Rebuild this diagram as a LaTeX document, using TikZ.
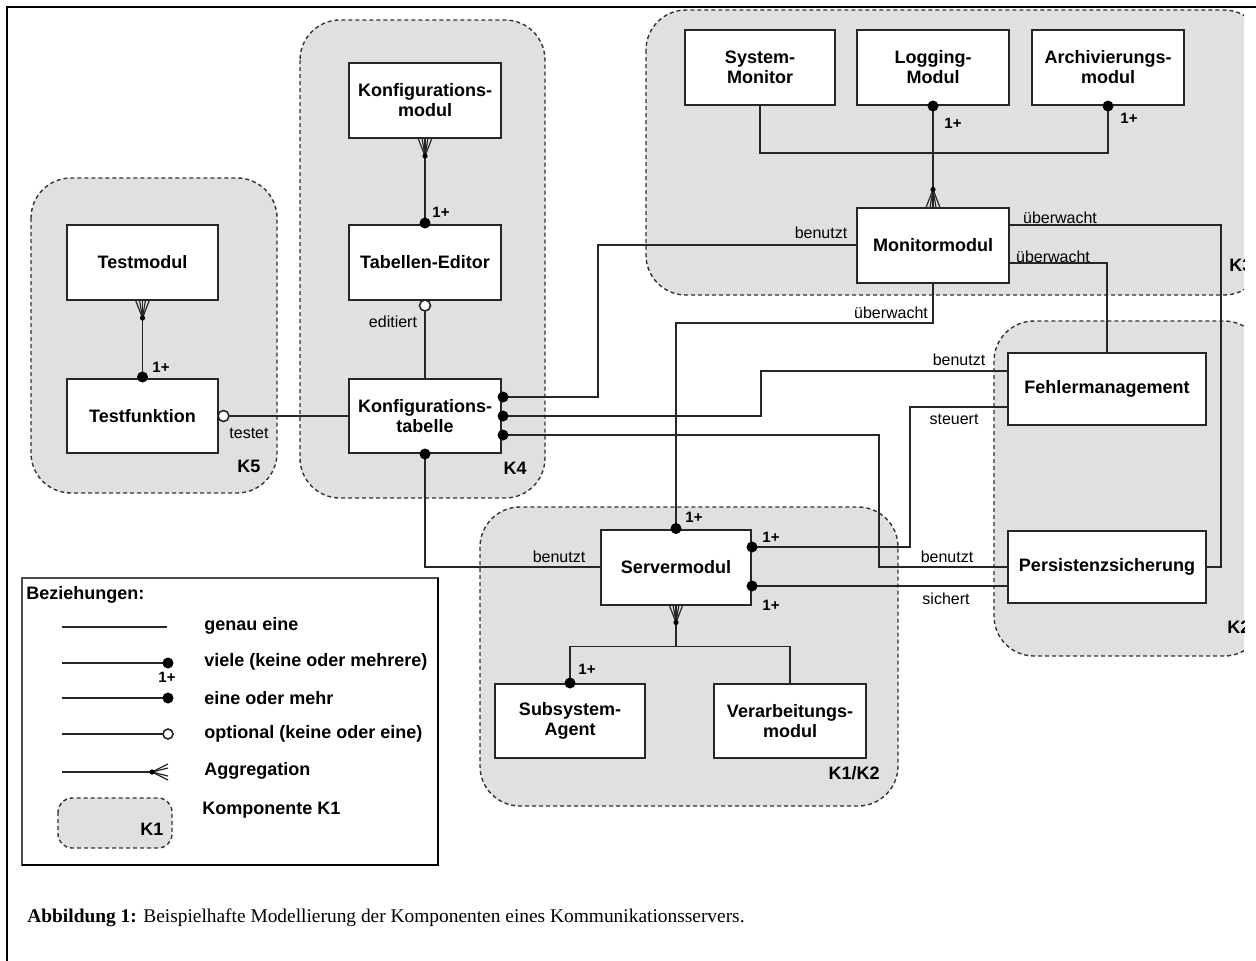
\documentclass[tikz,border=0pt]{standalone}
\usepackage{fontspec}
\setmainfont{Liberation Sans}
\newfontfamily\capfont{Liberation Serif}
\newcommand{\aggdown}[1]{%
  \draw[draw=black!85, line width=0.6pt] (#1) ++(-7,0) -- ++(7,18) -- ++(7,-18);
  \draw[draw=black!85, line width=0.6pt] (#1) ++(-3,0) -- ++(3,18) -- ++(3,-18);
  \fill[black] (#1) ++(0,18) circle (1.3pt);}
\newcommand{\aggup}[1]{%
  \draw[draw=black!85, line width=0.6pt] (#1) ++(-7,0) -- ++(7,-18) -- ++(7,18);
  \draw[draw=black!85, line width=0.6pt] (#1) ++(-3,0) -- ++(3,-18) -- ++(3,18);
  \fill[black] (#1) ++(0,-18) circle (1.3pt);}
\begin{document}
\begin{tikzpicture}[x=0.5pt,y=-0.5pt,
  comp/.style={draw=black!80, line width=0.7pt, dash pattern=on 2pt off 1.5pt, fill=black!12, rounded corners=20pt},
  box/.style={draw=black!85, line width=1pt, fill=white, inner sep=0pt, outer sep=0pt, align=center, font=\fontsize{9}{10}\selectfont\bfseries},
  wh/.style 2 args={minimum width=#1*0.5pt, minimum height=#2*0.5pt},
  conn/.style={draw=black!85, line width=0.9pt},
  lbl/.style={font=\fontsize{8}{9}\selectfont, inner sep=0pt},
  mult/.style={font=\fontsize{7.5}{8}\selectfont\bfseries, inner sep=0pt},
  klbl/.style={font=\fontsize{9}{10}\selectfont\bfseries, inner sep=0pt},
  ltxt/.style={font=\fontsize{9}{10}\selectfont\bfseries, inner sep=0pt, anchor=west},
  dot/.style={fill=black},
  odot/.style={draw=black!85, fill=white, line width=0.8pt},
]
\useasboundingbox (0,0) rectangle (1256,960);
\fill[white] (0,0) rectangle (1256,960);
\begin{scope}
\clip (0,0) rectangle (1244,960);

% components
\path[comp] (31,178) rectangle (277,493);
\path[comp] (300,20) rectangle (545,498);
\path[comp] (646,10) rectangle (1264,295);
\path[comp] (994,321) rectangle (1264,656);
\path[comp] (480,507) rectangle (898,806);
\node[klbl] (k5) at (249,466) {K5};
\node[klbl] (k4) at (515,468) {K4};
\node[klbl, anchor=west] (k3) at (1229,265) {K3};
\node[klbl, anchor=west] (k2) at (1227,627) {K2};
\node[klbl] (k12) at (854,773) {K1/K2};

% boxes
\node[box, wh={151}{75}] (tm) at (142.5,262.5) {Testmodul};
\node[box, wh={151}{74}] (tf) at (142.5,416) {Testfunktion};
\node[box, wh={152}{75}] (km) at (425,100.5) {Konfigurations-\\modul};
\node[box, wh={152}{75}] (te) at (425,262.5) {Tabellen-Editor};
\node[box, wh={152}{74}] (kt) at (425,416) {Konfigurations-\\tabelle};
\node[box, wh={150}{75}] (smon) at (760,67.5) {System-\\Monitor};
\node[box, wh={152}{75}] (lm) at (933,67.5) {Logging-\\Modul};
\node[box, wh={152}{75}] (am) at (1108,67.5) {Archivierungs-\\modul};
\node[box, wh={152}{75}] (mm) at (933,245) {Monitormodul};
\node[box, wh={150}{75}] (sm) at (676,567) {Servermodul};
\node[box, wh={150}{74}] (sa) at (570,721) {Subsystem-\\Agent};
\node[box, wh={152}{74}] (va) at (790,721) {Verarbeitungs-\\modul};
\node[box, wh={198}{72}] (fm) at (1107,389) {Fehlermanagement};
\node[box, wh={198}{72}] (ps) at (1107,567) {Persistenzsicherung};

% connectors
\draw[conn] (tm.south) -- (tf.north);
\aggdown{tm.south}
\fill[dot] ([yshift=1pt]tf.north) circle (2.75pt);
\node[mult] (m1) at (161,367) {1+};

\draw[conn] (km.south) -- (te.north);
\aggdown{km.south}
\fill[dot] ([yshift=1pt]te.north) circle (2.75pt);
\node[mult] (m2) at (441,212) {1+};

\draw[conn] (te.south) -- (kt.north);
\draw[odot] ([yshift=-2.75pt]te.south) circle (2.75pt);
\node[lbl] (l1) at (393,322) {editiert};

\draw[conn] (tf.east) -- (kt.west);
\draw[odot] ([xshift=2.75pt]tf.east) circle (2.75pt);
\node[lbl] (l2) at (249,433) {testet};

\draw[conn] ([yshift=9.5pt]kt.east) -| (598,245) -- (mm.west);
\node[lbl] (l3) at (821,233) {benutzt};
\draw[conn] (kt.east) -| (761,371) -- ([yshift=9pt]fm.west);
\node[lbl] (l4) at (959,360) {benutzt};
\draw[conn] ([yshift=-9.5pt]kt.east) -| (879,567) -- (ps.west);
\node[lbl] (l5) at (947,557) {benutzt};
\draw[conn] (kt.south) |- (sm.west);
\node[lbl] (l6) at (559,557) {benutzt};
\fill[dot] ([xshift=1pt,yshift=9.5pt]kt.east) circle (2.75pt);
\fill[dot] ([xshift=1pt]kt.east) circle (2.75pt);
\fill[dot] ([xshift=1pt,yshift=-9.5pt]kt.east) circle (2.75pt);
\fill[dot] ([yshift=-0.5pt]kt.south) circle (2.75pt);

\draw[conn] (mm.south) -- ++(0,40.5) -| (sm.north);
\fill[dot] ([yshift=0.5pt]sm.north) circle (2.75pt);
\node[mult] (m3) at (694,517) {1+};
\node[lbl] (l7) at (891,313) {überwacht};

\draw[conn] ([yshift=10pt]mm.east) -| (1221,567) -- (ps.east);
\node[lbl] (l8) at (1060,218) {überwacht};
\draw[conn] ([yshift=-9pt]mm.east) -| (fm.north);
\node[lbl] (l9) at (1053,257) {überwacht};

\draw[conn] ([yshift=-9pt]fm.west) -| (910,547) -- ([yshift=10pt]sm.east);
\fill[dot] ([xshift=0.5pt,yshift=10pt]sm.east) circle (2.75pt);
\node[mult] (m4) at (771,537) {1+};
\node[lbl] (l10) at (954,419) {steuert};

\draw[conn] ([yshift=-9.5pt]sm.east) -- ([yshift=-9.5pt]ps.west);
\fill[dot] ([xshift=0.5pt,yshift=-9.5pt]sm.east) circle (2.75pt);
\node[mult] (m5) at (771,605) {1+};
\node[lbl] (l11) at (946,599) {sichert};

\draw[conn] (sm.south) -- ++(0,42) coordinate (j1);
\aggdown{sm.south}
\draw[conn] (sa.north) -- (sa.north |- j1) -- (va.north |- j1) -- (va.north);
\fill[dot] ([yshift=0.5pt]sa.north) circle (2.75pt);
\node[mult] (m6) at (587,669) {1+};

\draw[conn] (lm.south) -- (mm.north);
\aggup{mm.north}
\fill[dot] ([yshift=-0.5pt]lm.south) circle (2.75pt);
\node[mult] (m7) at (953,123) {1+};

\draw[conn] (smon.south) -- ++(0,48) -| (am.south);
\fill[dot] ([yshift=-0.5pt]am.south) circle (2.75pt);
\node[mult] (m8) at (1129,118) {1+};

% legend
\draw[black!70, line width=0.8pt] (22,578) rectangle (438,865);
\draw[black, line width=1.4pt] (22,865) -- (438,865) -- (438,578);
\node[ltxt] (lhead) at (26,595) {Beziehungen:};
\draw[conn] (62,627) -- (167,627);
\node[ltxt] (lt1) at (204,626) {genau eine};
\draw[conn] (62,663) -- (168,663);
\fill[dot] (168,663) circle (2.75pt);
\node[mult] (lm1) at (167,677) {1+};
\node[ltxt] (lt2) at (204,662) {viele (keine oder mehrere)};
\draw[conn] (62,698) -- (168,698);
\fill[dot] (168,698) circle (2.75pt);
\node[ltxt] (lt3) at (204,698) {eine oder mehr};
\draw[conn] (62,734) -- (163,734);
\draw[odot] (168,734) circle (2.5pt);
\node[ltxt] (lt4) at (204,734) {optional (keine oder eine)};
\draw[conn] (62,772) -- (152,772);
\draw[draw=black!85, line width=0.6pt] (168,764) -- (152,772) -- (168,780);
\draw[draw=black!85, line width=0.6pt] (168,768) -- (152,772) -- (168,776);
\fill[black] (152,772) circle (1.3pt);
\node[ltxt] (lt5) at (204,771) {Aggregation};
\path[comp, rounded corners=7pt] (58,798) rectangle (172,848);
\node[klbl] (lk1) at (152,829) {K1};
\node[ltxt] (lt6) at (202,810) {Komponente K1};

% caption
\node[anchor=west, inner sep=0pt, font=\capfont\fontsize{9.7}{11}\selectfont] (cap) at (27,918) {\textbf{Abbildung 1:} Beispielhafte Modellierung der Komponenten eines Kommunikationsservers.};
\end{scope}

% frame
\draw[black, line width=1.35pt] (7,962) -- (7,7) -- (1258,7);
\end{tikzpicture}
\end{document}
